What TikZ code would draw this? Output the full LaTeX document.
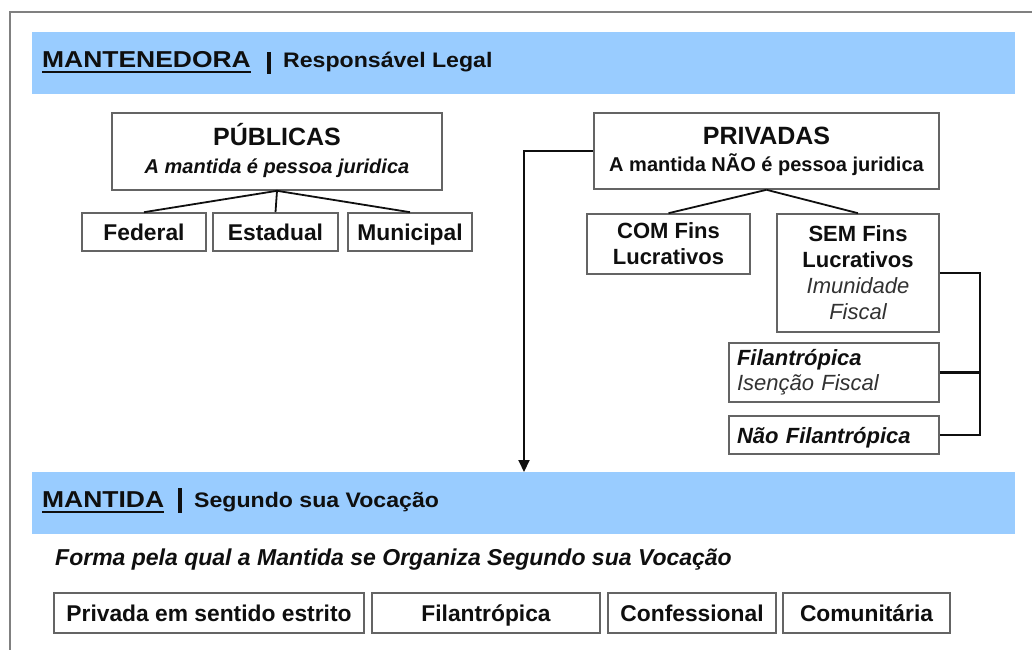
\documentclass[tikz,border=0pt]{standalone}
\usepackage{fontspec}
\setmainfont{Liberation Sans}
\newfontfamily\hdA[FakeStretch=1.15]{Liberation Sans}
\newfontfamily\hdB[FakeStretch=1.1]{Liberation Sans}
\usetikzlibrary{arrows.meta,calc}
\definecolor{bandblue}{RGB}{153,204,255}
\definecolor{boxgray}{RGB}{100,100,100}
\definecolor{framegray}{RGB}{128,128,128}
\definecolor{txt}{RGB}{15,15,15}
\definecolor{soft}{RGB}{50,50,50}
\begin{document}
\begin{tikzpicture}[x=1pt,y=-1pt,
  band/.style={fill=bandblue, draw=none, minimum width=983pt, minimum height=62pt, anchor=north west, inner sep=0pt},
  box/.style={draw=boxgray, line width=1.6pt, fill=white, inner sep=0pt, align=center, text=txt,
              font=\fontsize{22}{26}\selectfont\bfseries},
  one/.style={text height=16pt, text depth=0pt, font=\fontsize{22.8}{26}\selectfont\bfseries},
  size/.style 2 args={minimum width=#1pt, minimum height=#2pt},
  ttl/.style={anchor=base, inner sep=0pt, text=txt, font=\fontsize{25}{28}\selectfont\bfseries},
  sub/.style={anchor=base, inner sep=0pt, text=txt, font=\fontsize{20}{24}\selectfont\bfseries},
  hd/.style={anchor=base west, inner sep=0pt, text=txt},
  conn/.style={line width=1.8pt, draw=txt},
  ulin/.style={line width=1.6pt, draw=txt},
  bar/.style={line width=3.2pt, draw=txt}
]
\useasboundingbox (0,0) rectangle (1032,650);
% frame
\draw[framegray, line width=1.6pt] (1032,12) -- (10,12) -- (10,650);
% bands
\node[band] (band1) at (32,32) {};
\node[band] (band2) at (32,472) {};
% header 1
\node[hd, font=\hdA\bfseries\fontsize{23}{26}\selectfont] (h1) at (42,68) {MANTENEDORA};
\draw[ulin] ([yshift=-4pt]h1.base west) -- ([yshift=-4pt]h1.base east);
\draw[bar] (269,52) -- (269,74);
\node[hd, font=\hdB\bfseries\fontsize{21}{24}\selectfont] (h2) at (283,68) {Responsável Legal};
% header 2
\node[hd, font=\hdA\bfseries\fontsize{23}{26}\selectfont] (h3) at (42,507.5) {MANTIDA};
\draw[ulin] ([yshift=-4.5pt]h3.base west) -- ([yshift=-4.5pt]h3.base east);
\draw[bar] (180,488) -- (180,513);
\node[hd, font=\hdB\bfseries\fontsize{21}{24}\selectfont] (h4) at (194,507.5) {Segundo sua Vocação};
\node[hd, font=\bfseries\itshape\fontsize{23}{26}\selectfont] (forma) at (55,565) {Forma pela qual a Mantida se Organiza Segundo sua Vocação};
% publicas
\node[box, size={330}{77}] (pub) at (277,151.5) {};
\node[ttl] (pubT) at (277,145) {PÚBLICAS};
\node[sub] (pubS) at (277,173) {\itshape A mantida é pessoa juridica};
\node[box, one, size={124}{38}] (fed) at (144,232) {Federal};
\node[box, one, size={125}{38}] (est) at (275.5,232) {Estadual};
\node[box, one, size={124}{38}] (mun) at (410,232) {Municipal};
\draw[conn] (pub.south) -- (fed.north);
\draw[conn] (pub.south) -- (est.north);
\draw[conn] (pub.south) -- (mun.north);
% privadas
\node[box, size={345}{76}] (priv) at (766.5,151) {};
\node[ttl] (privT) at (766.5,144) {PRIVADAS};
\node[sub] (privS) at (766.5,171) {A mantida NÃO é pessoa juridica};
\node[box, size={163}{60}] (com) at (668.5,244) {COM Fins\\Lucrativos};
\node[box, size={162}{118}] (sem) at (858,273) {SEM Fins\\Lucrativos\\{\mdseries\itshape\color{soft}Imunidade}\\{\mdseries\itshape\color{soft}Fiscal}};
\draw[conn] (priv.south) -- (com.north);
\draw[conn] (priv.south) -- (sem.north);
\node[box, align=left, text width=194pt, inner xsep=8pt, minimum height=59pt, font=\fontsize{22}{25}\selectfont\bfseries\itshape] (fil) at (834,372.5) {Filantrópica\\{\mdseries\color{soft}Isenção Fiscal}};
\node[box, align=left, text width=194pt, inner xsep=8pt, minimum height=38pt, text height=16pt, text depth=0pt, font=\fontsize{22}{25}\selectfont\bfseries\itshape] (nfil) at (834,435) {Não Filantrópica};
\coordinate (brk) at (980,273);
\draw[conn, line width=2.2pt] (sem.east) -- (brk) |- (nfil.east);
\draw[conn, line width=2.2pt] (fil.east) -- (fil.east -| brk);
% arrow to mantida
\coordinate (arr) at (524,151);
\draw[conn, line width=2pt, -{Triangle[length=12pt,width=11pt]}] (priv.west) -- (arr) -- (arr |- band2.north);
% bottom row
\node[box, one, size={310}{40}] (b1) at (209,613) {Privada em sentido estrito};
\node[box, one, size={228}{40}] (b2) at (486,613) {Filantrópica};
\node[box, one, size={168}{40}] (b3) at (692,613) {Confessional};
\node[box, one, size={167}{40}] (b4) at (866.5,613) {Comunitária};
\end{tikzpicture}
\end{document}
